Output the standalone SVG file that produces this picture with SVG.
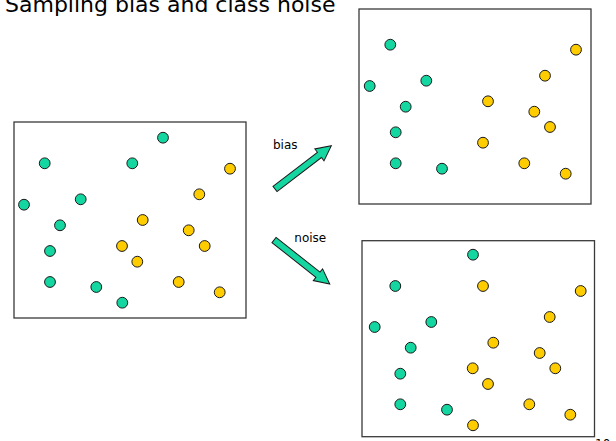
<svg xmlns="http://www.w3.org/2000/svg" xmlns:xlink="http://www.w3.org/1999/xlink" width="616" height="441" viewBox="0 0 616 441">
<style>
text{font-family:"DejaVu Sans","Verdana",sans-serif;fill:#000}
.box{fill:#fff;stroke:#3a3a3a;stroke-width:1.3}
.g{fill:#14D6A0;stroke:#1a1a1a;stroke-width:1}
.y{fill:#FFCC00;stroke:#1a1a1a;stroke-width:1}
.arr{fill:#14D6A0;stroke:#1a1a1a;stroke-width:1;stroke-linejoin:miter}
</style>
<defs>
<path id="arrowShape" d="M0,-3.3 L56,-3.3 L56,-7.5 L71,0 L56,7.5 L56,3.3 L0,3.3 Z"/>
</defs>
<rect width="616" height="441" fill="#fff"/>
<text x="5" y="12" font-size="22">Sampling bias and class noise</text>

<g id="original">
<rect class="box" x="14" y="122" width="232" height="196"/>
<circle class="g" cx="163" cy="137.7" r="5.4"/>
<circle class="g" cx="44.7" cy="163.3" r="5.4"/>
<circle class="g" cx="132.3" cy="163.3" r="5.4"/>
<circle class="g" cx="24" cy="204.7" r="5.4"/>
<circle class="g" cx="80.7" cy="199.3" r="5.4"/>
<circle class="g" cx="60" cy="225.3" r="5.4"/>
<circle class="g" cx="50" cy="251" r="5.4"/>
<circle class="g" cx="50" cy="282" r="5.4"/>
<circle class="g" cx="96.3" cy="287" r="5.4"/>
<circle class="g" cx="122.3" cy="302.7" r="5.4"/>
<circle class="y" cx="230" cy="168.7" r="5.4"/>
<circle class="y" cx="199.3" cy="194.3" r="5.4"/>
<circle class="y" cx="142.7" cy="220" r="5.4"/>
<circle class="y" cx="188.7" cy="230.3" r="5.4"/>
<circle class="y" cx="204.7" cy="246" r="5.4"/>
<circle class="y" cx="122" cy="246" r="5.4"/>
<circle class="y" cx="137.3" cy="261.7" r="5.4"/>
<circle class="y" cx="178.7" cy="282" r="5.4"/>
<circle class="y" cx="219.7" cy="292.3" r="5.4"/>
</g>

<g id="biased">
<rect class="box" x="359" y="9" width="232" height="195"/>
<circle class="g" cx="390.3" cy="44.7" r="5.4"/>
<circle class="g" cx="369.7" cy="86" r="5.4"/>
<circle class="g" cx="426.3" cy="80.7" r="5.4"/>
<circle class="g" cx="405.7" cy="106.7" r="5.4"/>
<circle class="g" cx="395.7" cy="132.3" r="5.4"/>
<circle class="g" cx="395.7" cy="163.3" r="5.4"/>
<circle class="g" cx="442" cy="168.7" r="5.4"/>
<circle class="y" cx="576" cy="49.7" r="5.4"/>
<circle class="y" cx="545" cy="75.7" r="5.4"/>
<circle class="y" cx="488" cy="101.3" r="5.4"/>
<circle class="y" cx="534.3" cy="111.7" r="5.4"/>
<circle class="y" cx="550" cy="127" r="5.4"/>
<circle class="y" cx="483" cy="142.7" r="5.4"/>
<circle class="y" cx="524.3" cy="163.3" r="5.4"/>
<circle class="y" cx="565.7" cy="173.7" r="5.4"/>
</g>

<g id="noisy">
<rect class="box" x="362" y="240.7" width="232.5" height="196"/>
<circle class="g" cx="473" cy="254.7" r="5.4"/>
<circle class="g" cx="395.3" cy="286" r="5.4"/>
<circle class="g" cx="374.7" cy="327" r="5.4"/>
<circle class="g" cx="431.3" cy="322" r="5.4"/>
<circle class="g" cx="410.7" cy="347.7" r="5.4"/>
<circle class="g" cx="400.3" cy="373.7" r="5.4"/>
<circle class="g" cx="400.3" cy="404.3" r="5.4"/>
<circle class="g" cx="447" cy="409.7" r="5.4"/>
<circle class="y" cx="483" cy="286" r="5.4"/>
<circle class="y" cx="580.7" cy="291" r="5.4"/>
<circle class="y" cx="549.7" cy="317" r="5.4"/>
<circle class="y" cx="493.3" cy="342.7" r="5.4"/>
<circle class="y" cx="539.7" cy="353" r="5.4"/>
<circle class="y" cx="555.3" cy="368.3" r="5.4"/>
<circle class="y" cx="472.7" cy="368.3" r="5.4"/>
<circle class="y" cx="488" cy="384" r="5.4"/>
<circle class="y" cx="529.3" cy="404.3" r="5.4"/>
<circle class="y" cx="570.3" cy="414.7" r="5.4"/>
<circle class="y" cx="473" cy="425.3" r="5.4"/>
</g>

<g id="connectors">
<use xlink:href="#arrowShape" class="arr" transform="translate(275,189) rotate(-37.5)"/>
<text x="273" y="149.3" font-size="12">bias</text>
<use xlink:href="#arrowShape" class="arr" transform="translate(274,240) rotate(38.3)"/>
<text x="294.3" y="241.7" font-size="12">noise</text>
</g>

<text x="595" y="448" font-size="12">10</text>
</svg>
